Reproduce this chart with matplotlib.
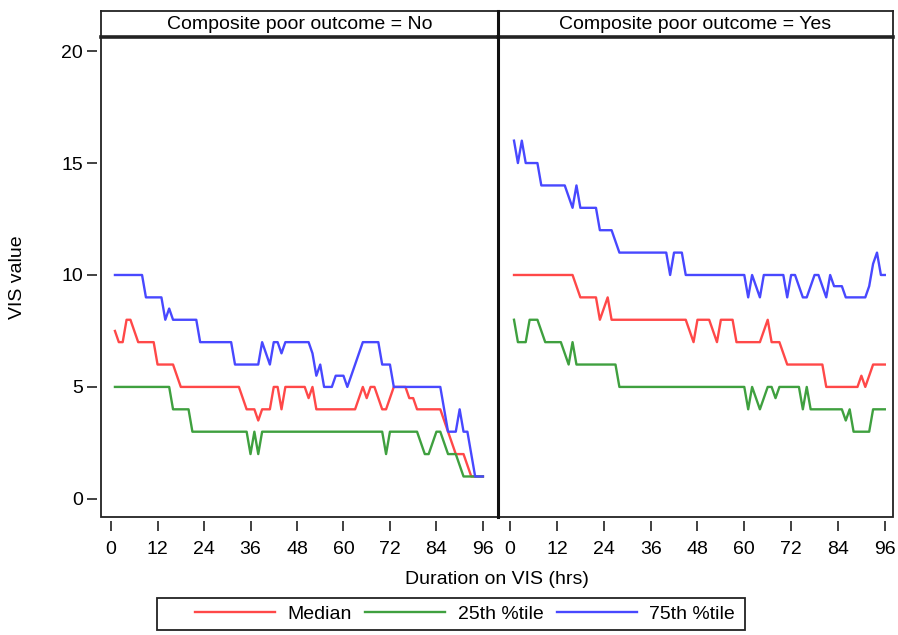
import matplotlib
matplotlib.use("Agg")
import matplotlib.pyplot as plt
from matplotlib.patches import Rectangle

plt.rcParams['font.family'] = ['Liberation Sans', 'DejaVu Sans']

# ---------------- data ----------------
hours = list(range(1, 97))

panel_titles = ["Composite poor outcome = No", "Composite poor outcome = Yes"]
series_names = ["Median", "25th %tile", "75th %tile"]
x_ticks = [0, 12, 24, 36, 48, 60, 72, 84, 96]
y_ticks = [0, 5, 10, 15, 20]

no_median = [
    7.5, 7, 7, 8, 8, 7.5, 7, 7, 7, 7, 7, 6,
    6, 6, 6, 6, 5.5, 5, 5, 5, 5, 5, 5, 5,
    5, 5, 5, 5, 5, 5, 5, 5, 5, 4.5, 4, 4,
    4, 3.5, 4, 4, 4, 5, 5, 4, 5, 5, 5, 5,
    5, 5, 4.5, 5, 4, 4, 4, 4, 4, 4, 4, 4,
    4, 4, 4, 4.5, 5, 4.5, 5, 5, 4.5, 4, 4, 4.5,
    5, 5, 5, 5, 4.5, 4.5, 4, 4, 4, 4, 4, 4,
    4, 3.5, 3, 2.5, 2, 2, 2, 1.5, 1, 1, 1, 1]
no_p25 = [
    5, 5, 5, 5, 5, 5, 5, 5, 5, 5, 5, 5,
    5, 5, 5, 4, 4, 4, 4, 4, 3, 3, 3, 3,
    3, 3, 3, 3, 3, 3, 3, 3, 3, 3, 3, 2,
    3, 2, 3, 3, 3, 3, 3, 3, 3, 3, 3, 3,
    3, 3, 3, 3, 3, 3, 3, 3, 3, 3, 3, 3,
    3, 3, 3, 3, 3, 3, 3, 3, 3, 3, 2, 3,
    3, 3, 3, 3, 3, 3, 3, 2.5, 2, 2, 2.5, 3,
    3, 2.5, 2, 2, 2, 1.5, 1, 1, 1, 1, 1, 1]
no_p75 = [
    10, 10, 10, 10, 10, 10, 10, 10, 9, 9, 9, 9,
    9, 8, 8.5, 8, 8, 8, 8, 8, 8, 8, 7, 7,
    7, 7, 7, 7, 7, 7, 7, 6, 6, 6, 6, 6,
    6, 6, 7, 6.5, 6, 7, 7, 6.5, 7, 7, 7, 7,
    7, 7, 7, 6.5, 5.5, 6, 5, 5, 5, 5.5, 5.5, 5.5,
    5, 5.5, 6, 6.5, 7, 7, 7, 7, 7, 6, 6, 6,
    5, 5, 5, 5, 5, 5, 5, 5, 5, 5, 5, 5,
    5, 4, 3, 3, 3, 4, 3, 3, 2, 1, 1, 1]

yes_median = [
    10, 10, 10, 10, 10, 10, 10, 10, 10, 10, 10, 10,
    10, 10, 10, 10, 9.5, 9, 9, 9, 9, 9, 8, 8.5,
    9, 8, 8, 8, 8, 8, 8, 8, 8, 8, 8, 8,
    8, 8, 8, 8, 8, 8, 8, 8, 8, 7.5, 7, 8,
    8, 8, 8, 7.5, 7, 8, 8, 8, 8, 7, 7, 7,
    7, 7, 7, 7, 7.5, 8, 7, 7, 7, 6.5, 6, 6,
    6, 6, 6, 6, 6, 6, 6, 6, 5, 5, 5, 5,
    5, 5, 5, 5, 5, 5.5, 5, 5.5, 6, 6, 6, 6]
yes_p25 = [
    8, 7, 7, 7, 8, 8, 8, 7.5, 7, 7, 7, 7,
    7, 6.5, 6, 7, 6, 6, 6, 6, 6, 6, 6, 6,
    6, 6, 6, 5, 5, 5, 5, 5, 5, 5, 5, 5,
    5, 5, 5, 5, 5, 5, 5, 5, 5, 5, 5, 5,
    5, 5, 5, 5, 5, 5, 5, 5, 5, 5, 5, 5,
    4, 5, 4.5, 4, 4.5, 5, 5, 4.5, 5, 5, 5, 5,
    5, 5, 4, 5, 4, 4, 4, 4, 4, 4, 4, 4,
    4, 3.5, 4, 3, 3, 3, 3, 3, 4, 4, 4, 4]
yes_p75 = [
    16, 15, 16, 15, 15, 15, 15, 14, 14, 14, 14, 14,
    14, 14, 13.5, 13, 14, 13, 13, 13, 13, 13, 12, 12,
    12, 12, 11.5, 11, 11, 11, 11, 11, 11, 11, 11, 11,
    11, 11, 11, 11, 10, 11, 11, 11, 10, 10, 10, 10,
    10, 10, 10, 10, 10, 10, 10, 10, 10, 10, 10, 10,
    9, 10, 9.5, 9, 10, 10, 10, 10, 10, 10, 9, 10,
    10, 9.5, 9, 9, 9.5, 10, 10, 9.5, 9, 10, 9.5, 9.5,
    9.5, 9, 9, 9, 9, 9, 9, 9.5, 10.5, 11, 10, 10]

panels = [
    {"title": panel_titles[0], "series": [no_median, no_p25, no_p75]},
    {"title": panel_titles[1], "series": [yes_median, yes_p25, yes_p75]},
]
colors = ["#FF4848", "#3FA03F", "#4848FF"]

# ---------------- layout ----------------
W, H = 898, 635
fig = plt.figure(figsize=(W / 100, H / 100), dpi=100)

def fx(px):
    return px / W

def fy(py):
    return 1 - py / H

plot_top, plot_bot = 37, 517
head_top = 11
panel_x = [(101, 498), (498, 893)]
xlims = [(-2.6, 99.9), (-3.1, 98.1)]
ylim = (-0.81, 20.63)
FS = 14

handles = []
for i, (p, (x0, x1)) in enumerate(zip(panels, panel_x)):
    ax = fig.add_axes([fx(x0), fy(plot_bot), fx(x1) - fx(x0), fy(plot_top) - fy(plot_bot)])
    for s, c, name in zip(p["series"], colors, series_names):
        ln, = ax.plot(hours, s, color=c, lw=1.7, label=name, solid_joinstyle='round')
        if i == 0:
            handles.append(ln)
    ax.set_xlim(*xlims[i])
    ax.set_ylim(*ylim)
    for sp in ["top", "right"]:
        ax.spines[sp].set_visible(False)
    for sp in ["left", "bottom"]:
        ax.spines[sp].set_position(("outward", 3))
        ax.spines[sp].set_color("none")
    ax.set_xticks(x_ticks)
    ax.set_xticklabels([str(t) for t in x_ticks], fontsize=FS)
    ax.tick_params(axis="x", direction="out", length=7, width=1.3, color="#333333", pad=7)
    if i == 0:
        ax.set_yticks(y_ticks)
        ax.set_yticklabels([str(t) for t in y_ticks], fontsize=FS)
        ax.tick_params(axis="y", direction="out", length=7, width=1.3, color="#333333", pad=3)
    else:
        ax.set_yticks([])
    ax.add_patch(Rectangle((0, 0), 1, 1, transform=ax.transAxes, fill=False,
                           edgecolor="#222222", lw=1.3, clip_on=False, zorder=10))

    # header strip
    hax = fig.add_axes([fx(x0), fy(plot_top), fx(x1) - fx(x0), fy(head_top) - fy(plot_top)])
    hax.set_xticks([])
    hax.set_yticks([])
    for sp in hax.spines.values():
        sp.set_color("#222222")
        sp.set_linewidth(1.3)
    hax.spines["bottom"].set_linewidth(2.6)
    hax.text(0.5, 0.47, p["title"], ha="center", va="center", fontsize=FS, transform=hax.transAxes)

# thick divider between panels
fig.add_artist(plt.Line2D([fx(498), fx(498)], [fy(plot_bot), fy(head_top)],
                          color="#111111", lw=2.2, transform=fig.transFigure))

fig.text(fx(18), fy(277), "VIS value", rotation=90, ha="center", va="center", fontsize=FS)
fig.text(fx(497), fy(580), "Duration on VIS (hrs)", ha="center", va="center", fontsize=FS)

# legend frame (drawn separately to match the asymmetric padding)
fig.add_artist(Rectangle((fx(157), fy(630)), fx(745) - fx(157), fy(598) - fy(630),
                         transform=fig.transFigure, fill=False, edgecolor="#222222", lw=1.3))
leg = fig.legend(handles, series_names, loc="center left", bbox_to_anchor=(fx(195), fy(614)),
                 ncol=3, frameon=False, fontsize=FS, borderpad=0, borderaxespad=0,
                 handlelength=4.1, handletextpad=0.65, columnspacing=0.7)

fig.savefig("out.png", dpi=100)
